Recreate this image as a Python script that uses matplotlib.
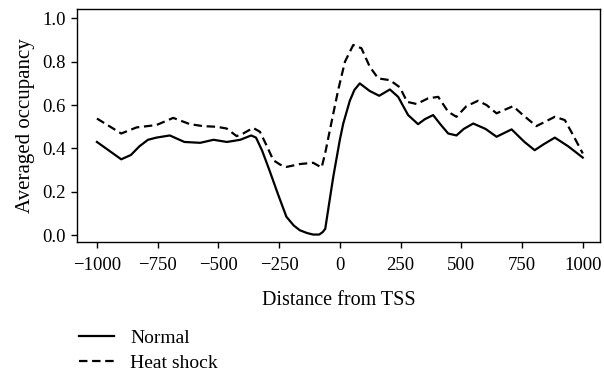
import matplotlib
matplotlib.use("Agg")
import matplotlib.pyplot as plt

# Données
pos_normal = [-1000, -950, -900, -860, -825, -790, -755, -700, -640, -575, -520, -465,
              -410, -365, -345, -320, -290, -255, -220, -190, -165, -135, -110, -85,
              -70, -60, -45, -27, 0, 14, 41, 60, 82, 123, 162, 206, 240, 281, 322, 350,
              384, 415, 446, 480, 510, 549, 600, 645, 707, 760, 802, 840, 885, 940, 1000]
occ_normal = [0.43, 0.39, 0.35, 0.37, 0.41, 0.44, 0.45, 0.46, 0.43, 0.426, 0.44, 0.43,
              0.44, 0.46, 0.45, 0.39, 0.30, 0.19, 0.085, 0.045, 0.023, 0.01, 0.003, 0.003,
              0.015, 0.03, 0.14, 0.27, 0.44, 0.515, 0.62, 0.67, 0.70, 0.665, 0.643, 0.672,
              0.638, 0.554, 0.512, 0.535, 0.554, 0.51, 0.469, 0.46, 0.49, 0.515, 0.49,
              0.454, 0.488, 0.43, 0.392, 0.42, 0.45, 0.41, 0.358]

pos_heat = [-1000, -900, -837, -755, -686, -617, -563, -507, -466, -425, -398, -357,
            -329, -300, -274, -245, -219, -165, -110, -75, -60, -41, -7, 21, 55, 89, 123,
            158, 206, 247, 277, 316, 363, 405, 446, 480, 521, 569, 604, 645, 713, 754,
            809, 885, 926, 960, 1000]
occ_heat = [0.538, 0.469, 0.497, 0.508, 0.541, 0.512, 0.503, 0.50, 0.492, 0.457, 0.469,
            0.495, 0.477, 0.41, 0.346, 0.325, 0.315, 0.328, 0.334, 0.312, 0.38, 0.485,
            0.669, 0.80, 0.877, 0.862, 0.777, 0.723, 0.715, 0.682, 0.615, 0.605, 0.631,
            0.638, 0.569, 0.546, 0.595, 0.62, 0.60, 0.562, 0.595, 0.554, 0.503, 0.546,
            0.531, 0.462, 0.377]

xticks = [-1000, -750, -500, -250, 0, 250, 500, 750, 1000]
yticks = [0.0, 0.2, 0.4, 0.6, 0.8, 1.0]

plt.rcParams['font.family'] = ['Liberation Serif', 'DejaVu Serif']

fig = plt.figure(figsize=(6.04, 3.76), dpi=100)
ax = fig.add_axes([0.1275, 0.356, 0.8655, 0.62])

ax.plot(pos_normal, occ_normal, color="black", linewidth=1.6, label="Normal",
        solid_joinstyle="round")
ax.plot(pos_heat, occ_heat, color="black", linewidth=1.6, linestyle=(0, (3.8, 2.1)),
        label="Heat shock", dash_joinstyle="round")

ax.set_xlim(-1082, 1070)
ax.set_ylim(-0.032, 1.043)
ax.set_xticks(xticks)
ax.set_yticks(yticks)
ax.set_xticklabels([str(t).replace("-", "\u2212") for t in xticks])
ax.set_yticklabels([f"{t:.1f}" for t in yticks])
ax.tick_params(axis="both", direction="out", length=4, width=1, colors="black",
               labelsize=13.5, pad=4)
ax.tick_params(axis="x", pad=7)
for spine in ax.spines.values():
    spine.set_linewidth(1)

ax.set_xlabel("Distance from TSS", fontsize=14.5, labelpad=12)
ax.set_ylabel("Averaged occupancy", fontsize=15, labelpad=5)

# Légende sous le graphique
handles, labels = ax.get_legend_handles_labels()
fig.legend(handles, labels, loc="upper left", bbox_to_anchor=(0.13, 0.125),
           frameon=False, handlelength=1.85, handletextpad=0.8, labelspacing=0.4,
           fontsize=14, borderaxespad=0, borderpad=0)

fig.savefig("out.png", dpi=100)
plt.close(fig)
